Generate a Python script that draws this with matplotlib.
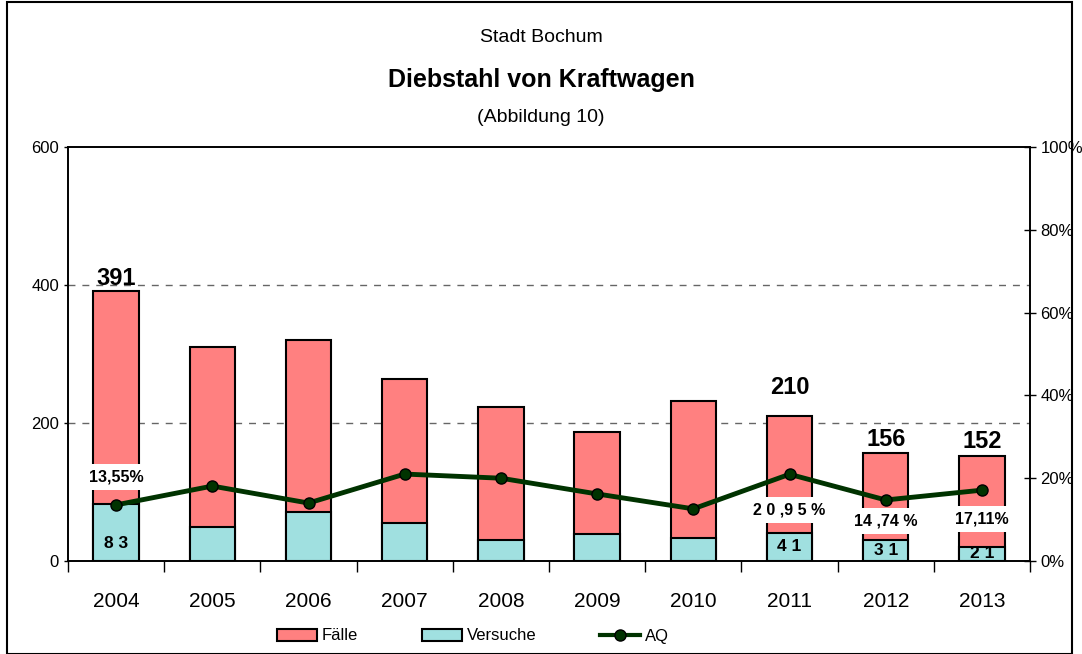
import matplotlib
matplotlib.use("Agg")
import matplotlib.pyplot as plt
import numpy as np
from matplotlib.patches import Rectangle
from matplotlib.lines import Line2D
from matplotlib.patches import Patch

years = ["2004", "2005", "2006", "2007", "2008", "2009", "2010", "2011", "2012", "2013"]
faelle = [391, 310, 320, 264, 223, 187, 232, 210, 156, 152]
versuche = [83, 49, 71, 55, 30, 39, 33, 41, 31, 21]
aq = [13.55, 18.1, 14.0, 21.0, 20.0, 16.2, 12.6, 20.95, 14.74, 17.11]

top_labels = {0: "391", 7: "210", 8: "156", 9: "152"}
top_label_off = {0: 1, 7: 12, 8: 2, 9: 2}
aq_labels = {0: "13,55%", 7: "2 0 ,9 5 %", 8: "14 ,74 %", 9: "17,11%"}
aq_label_off = {0: 20, 7: -26, 8: -15, 9: -21}
versuche_labels = {0: "8 3", 7: "4 1", 8: "3 1", 9: "2 1"}

plt.rcParams['font.family'] = ['Liberation Sans', 'DejaVu Sans']

fig = plt.figure(figsize=(10.82, 6.54), dpi=100)
ax = fig.add_axes([68/1082, 1-561/654, (1030-68)/1082, (561-147)/654])
x = np.arange(len(years))
w = 0.47
red = "#FF8080"
cyan = "#A0E0E0"
green = "#003300"

ax.bar(x, faelle, width=w, color=red, edgecolor="black", linewidth=1.5, zorder=2)
ax.bar(x, versuche, width=w, color=cyan, edgecolor="black", linewidth=1.5, zorder=3)
ax.set_ylim(0, 600)
ax.set_xlim(-0.5, len(years) - 0.5)
ax.set_yticks([0, 200, 400, 600])
ax.tick_params(axis='y', labelsize=12, length=3, width=1, colors="black")
ax.set_xticks(x)
ax.set_xticklabels(years, fontsize=15)
ax.tick_params(axis='x', which='major', length=0, pad=22)
ax.set_xticks(np.arange(-0.5, len(years), 1.0), minor=True)
ax.tick_params(axis='x', which='minor', length=8, width=1, direction='out')
for yv in [200, 400]:
    ax.axhline(yv, color="#666666", linestyle=(0, (5, 5)), linewidth=1, zorder=1)
for s in ax.spines.values():
    s.set_linewidth(1.2)

for i, t in top_labels.items():
    ax.annotate(t, (x[i], faelle[i]), xytext=(0, top_label_off[i]), textcoords="offset points",
                ha="center", va="bottom", fontsize=17, fontweight="bold", zorder=6)

for i, t in versuche_labels.items():
    ax.text(x[i], min(versuche[i] / 2, 26), t, ha="center", va="center",
            fontsize=12.5, fontweight="bold", zorder=6)

ax2 = ax.twinx()
ax2.set_ylim(0, 100)
ax2.set_yticks([0, 20, 40, 60, 80, 100])
ax2.set_yticklabels(["0%", "20%", "40%", "60%", "80%", "100%"])
ax2.tick_params(axis='y', labelsize=12, length=8, direction='inout', width=1)
for s in ax2.spines.values():
    s.set_linewidth(1.2)
ax2.plot(x, aq, color=green, linewidth=3.5, marker="o", markersize=8,
         markerfacecolor=green, markeredgecolor="black", zorder=5)
for i, t in aq_labels.items():
    ax2.annotate(t, (x[i], aq[i]), xytext=(0, aq_label_off[i]), textcoords="offset points",
                 ha="center", va="center", fontsize=11.5, fontweight="bold", zorder=7,
                 bbox=dict(boxstyle="square,pad=0.35", fc="white", ec="none"))

fig.text(0.5, 1-38/654, "Stadt Bochum", ha="center", va="center", fontsize=14)
fig.text(0.5, 1-80/654, "Diebstahl von Kraftwagen", ha="center", va="center", fontsize=18, fontweight="bold")
fig.text(0.5, 1-117/654, "(Abbildung 10)", ha="center", va="center", fontsize=14)

handles = [Patch(facecolor=red, edgecolor="black", linewidth=1.5),
           Patch(facecolor=cyan, edgecolor="black", linewidth=1.5),
           Line2D([0], [0], color=green, linewidth=3, marker="o", markersize=8,
                  markerfacecolor=green, markeredgecolor="black")]
fig.legend(handles, ["Fälle", "Versuche", "AQ"], loc="center", bbox_to_anchor=(0.437, 1-636/654),
           ncol=3, frameon=False, fontsize=12, columnspacing=3.8, handlelength=2.4,
           handletextpad=0.3)

fig.patches.append(Rectangle((7/1082, 0), (1072-7)/1082, 1-2/654, transform=fig.transFigure,
                             fill=False, edgecolor="black", linewidth=1.5))

fig.savefig("out.png", dpi=100)
